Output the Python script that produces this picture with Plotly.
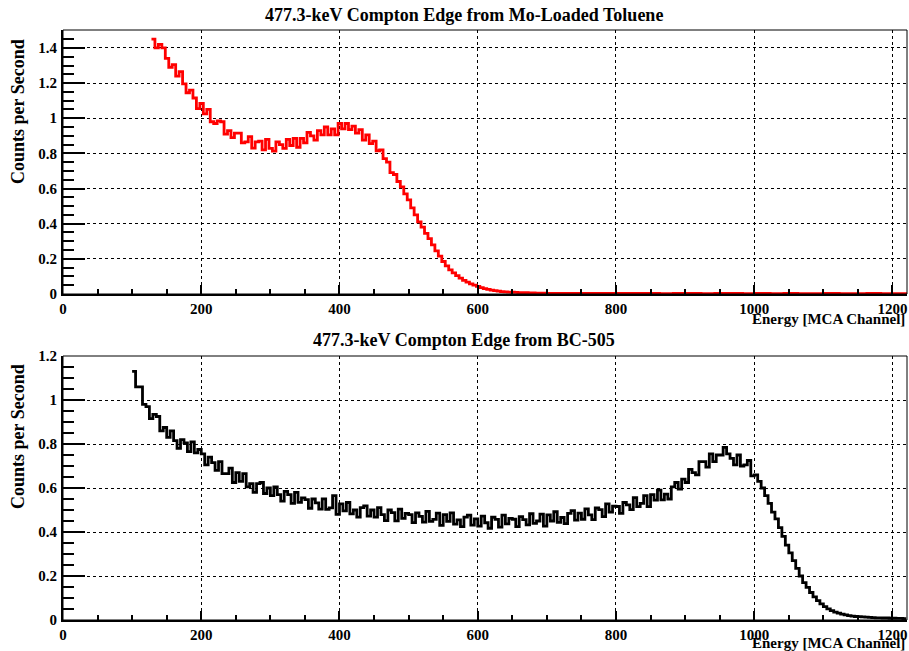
import numpy as np
import plotly.graph_objects as go

# ---------------- data ----------------
# Mo-loaded toluene: 5-channel bins starting at channel 128
mo_start = 128
mo_width = 5
mo_counts = [
    1.45, 1.40, 1.42, 1.40, 1.34, 1.29, 1.305, 1.24, 1.265, 1.195,
    1.145, 1.16, 1.115, 1.055, 1.085, 1.025, 1.05, 0.98, 0.97, 0.985,
    0.98, 0.91, 0.93, 0.89, 0.915, 0.915, 0.86, 0.865, 0.895, 0.83,
    0.865, 0.87, 0.82, 0.88, 0.828, 0.813, 0.865, 0.85, 0.828, 0.88,
    0.845, 0.885, 0.835, 0.885, 0.86, 0.92, 0.90, 0.875, 0.93, 0.905,
    0.95, 0.905, 0.94, 0.905, 0.97, 0.94, 0.97, 0.935, 0.955, 0.915,
    0.935, 0.875, 0.905, 0.855, 0.87, 0.815, 0.82, 0.77, 0.75, 0.69,
    0.68, 0.64, 0.61, 0.57, 0.535, 0.49, 0.45, 0.41, 0.38, 0.345,
    0.315, 0.28, 0.245, 0.215, 0.185, 0.16, 0.137, 0.12, 0.105, 0.09,
    0.078, 0.067, 0.058, 0.05, 0.043, 0.036, 0.031, 0.026, 0.022, 0.019,
    0.016, 0.014, 0.012, 0.011, 0.010, 0.009, 0.008, 0.007, 0.007, 0.006,
    0.006, 0.005, 0.005, 0.005, 0.004,
]
# flat tail: 20-channel bins starting at channel 703
mo_tail_start = 703
mo_tail_width = 20
mo_tail_counts = [
    0.004, 0.003, 0.004, 0.003, 0.003, 0.004, 0.003, 0.003, 0.002, 0.003,
    0.003, 0.002, 0.003, 0.003, 0.002, 0.003, 0.002, 0.003, 0.002, 0.002,
    0.003, 0.002, 0.002, 0.003, 0.002, 0.002,
]

# BC-505: 5-channel bins starting at channel 100
bc_start = 100
bc_width = 5
bc_counts = [
    1.13, 1.06, 1.06, 0.98, 0.97, 0.915, 0.935, 0.925, 0.86, 0.875,
    0.83, 0.86, 0.815, 0.78, 0.82, 0.805, 0.765, 0.81, 0.76, 0.775,
    0.755, 0.705, 0.74, 0.715, 0.68, 0.72, 0.665, 0.665, 0.69, 0.625,
    0.67, 0.63, 0.665, 0.605, 0.62, 0.58, 0.62, 0.625, 0.575, 0.60,
    0.565, 0.605, 0.57, 0.54, 0.585, 0.57, 0.53, 0.58, 0.535, 0.555,
    0.547, 0.508, 0.55, 0.532, 0.504, 0.551, 0.503, 0.51, 0.565, 0.48,
    0.528, 0.496, 0.534, 0.482, 0.50, 0.468, 0.511, 0.519, 0.472, 0.50,
    0.468, 0.511, 0.479, 0.452, 0.50, 0.488, 0.451, 0.504, 0.462, 0.485,
    0.479, 0.443, 0.487, 0.471, 0.445, 0.494, 0.448, 0.457, 0.486, 0.43,
    0.479, 0.448, 0.487, 0.436, 0.455, 0.424, 0.468, 0.477, 0.431, 0.46,
    0.427, 0.472, 0.442, 0.417, 0.467, 0.457, 0.422, 0.477, 0.437, 0.462,
    0.458, 0.424, 0.47, 0.456, 0.432, 0.483, 0.439, 0.45, 0.481, 0.427,
    0.478, 0.45, 0.492, 0.444, 0.466, 0.438, 0.485, 0.497, 0.454, 0.486,
    0.458, 0.505, 0.478, 0.456, 0.509, 0.502, 0.47, 0.528, 0.49, 0.518,
    0.516, 0.485, 0.534, 0.523, 0.502, 0.556, 0.515, 0.53, 0.565, 0.515,
    0.57, 0.545, 0.59, 0.546, 0.572, 0.55, 0.605, 0.625, 0.595, 0.64,
    0.625, 0.685, 0.67, 0.66, 0.72, 0.72, 0.695, 0.755, 0.72, 0.75,
    0.75, 0.785, 0.755, 0.735, 0.705, 0.75, 0.70, 0.705, 0.725, 0.655,
    0.66, 0.63, 0.60, 0.565, 0.53, 0.49, 0.46, 0.42, 0.38, 0.34,
    0.305, 0.27, 0.235, 0.20, 0.17, 0.148, 0.125, 0.105, 0.088, 0.073,
    0.061, 0.051, 0.043, 0.036, 0.031, 0.027, 0.023, 0.020, 0.018, 0.016,
    0.015, 0.014, 0.013, 0.012, 0.011, 0.010, 0.010, 0.009, 0.009, 0.008,
    0.008, 0.007, 0.007, 0.006,
]

top_title = "477.3-keV Compton Edge from Mo-Loaded Toluene"
bottom_title = "477.3-keV Compton Edge from BC-505"
x_title = "Energy [MCA Channel]"
y_title = "Counts per Second"
x_range = [0, 1221]
top_y_range = [0, 1.502]
bottom_y_range = [0, 1.2]


def step_xy(segments):
    xs, ys = [], []
    for start, width, vals in segments:
        edges = start + width * np.arange(len(vals) + 1)
        xs.extend(edges[:-1].tolist())
        ys.extend(vals)
        last_edge, last_val = edges[-1], vals[-1]
    xs.append(float(last_edge))
    ys.append(last_val)
    return xs, ys


mx, my = step_xy([(mo_start, mo_width, mo_counts),
                  (mo_tail_start, mo_tail_width, mo_tail_counts)])
bx, by = step_xy([(bc_start, bc_width, bc_counts)])

W, H = 909, 651
L, R = 63, 907
top_t, top_b = 30, 294
bot_t, bot_b = 356, 620

FONT = "Liberation Serif"

fig = go.Figure()
fig.add_trace(go.Scatter(x=mx, y=my, mode="lines", line=dict(color="#ff0000", width=2.8, shape="hv"),
                         xaxis="x", yaxis="y", showlegend=False, hoverinfo="skip"))
fig.add_trace(go.Scatter(x=bx, y=by, mode="lines", line=dict(color="#000000", width=2.8, shape="hv"),
                         xaxis="x2", yaxis="y2", showlegend=False, hoverinfo="skip"))


def xaxis_cfg(anchor):
    return dict(
        domain=[L / W, R / W], anchor=anchor, range=x_range, automargin=False,
        showline=True, linecolor="black", linewidth=2, mirror=False,
        ticks="inside", ticklen=9, tickwidth=2, tickcolor="black",
        dtick=200, tick0=0,
        minor=dict(ticks="inside", ticklen=5, tickwidth=1.5, tickcolor="black", dtick=50, showgrid=False),
        showgrid=True, gridcolor="black", griddash="dot", gridwidth=1,
        zeroline=False,
        tickfont=dict(family=FONT, size=15, color="black", weight="bold"),
        ticklabelstandoff=0,
    )


def yaxis_cfg(anchor, t, b, rng):
    return dict(
        domain=[1 - b / H, 1 - t / H], anchor=anchor, range=rng, automargin=False,
        showline=True, linecolor="black", linewidth=2, mirror=False,
        ticks="inside", ticklen=22, tickwidth=2, tickcolor="black",
        dtick=0.2, tick0=0,
        minor=dict(ticks="inside", ticklen=11, tickwidth=1.5, tickcolor="black", dtick=0.05, showgrid=False),
        showgrid=True, gridcolor="black", griddash="dot", gridwidth=1,
        zeroline=False,
        tickfont=dict(family=FONT, size=15, color="black", weight="bold"),
        ticklabelstandoff=1,
    )


fig.update_layout(
    width=W, height=H,
    margin=dict(l=0, r=0, t=0, b=0, autoexpand=False),
    paper_bgcolor="white", plot_bgcolor="white",
    xaxis=xaxis_cfg("y"),
    yaxis=yaxis_cfg("x", top_t, top_b, top_y_range),
    xaxis2=xaxis_cfg("y2"),
    yaxis2=yaxis_cfg("x2", bot_t, bot_b, bottom_y_range),
)

# frames
for t, b in [(top_t, top_b), (bot_t, bot_b)]:
    fig.add_shape(type="rect", xref="paper", yref="paper",
                  x0=L / W, x1=R / W, y0=1 - b / H, y1=1 - t / H,
                  line=dict(color="black", width=1), layer="above")

tfont = dict(family=FONT, size=18, color="black", weight="bold")
lfont = dict(family=FONT, size=18, color="black", weight="bold")
afont = dict(family=FONT, size=15, color="black", weight="bold")

fig.add_annotation(text=top_title, xref="paper", yref="paper", x=464 / W, y=1 - 15 / H,
                   showarrow=False, font=tfont, xanchor="center", yanchor="middle")
fig.add_annotation(text=bottom_title, xref="paper", yref="paper", x=464 / W, y=1 - 340 / H,
                   showarrow=False, font=tfont, xanchor="center", yanchor="middle")
for cy in (112, 437):
    fig.add_annotation(text=y_title, xref="paper", yref="paper", x=18 / W, y=1 - cy / H,
                       showarrow=False, font=lfont, textangle=-90, xanchor="center", yanchor="middle")
for cy in (319, 643):
    fig.add_annotation(text=x_title, xref="paper", yref="paper", x=R / W, y=1 - cy / H,
                       showarrow=False, font=afont, xanchor="right", yanchor="middle")

fig.write_html(
    "out.html",
    config={"displayModeBar": False},
    post_script="document.body.style.margin='0';document.body.style.overflow='hidden';",
)
